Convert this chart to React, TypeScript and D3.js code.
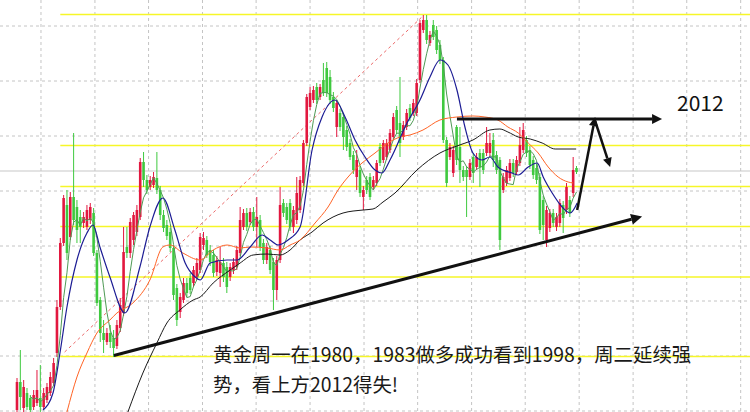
import React from 'react';
import * as d3 from 'd3';

const W = 750;
const H = 412;

// ---- candle data (price units) ----
const opens = [
  1954.0, 1959.6, 1954.4, 1957.4, 1956.4, 1954.6, 1955.4, 1956.4, 1954.6, 1956.0,
  1957.4, 1959.4, 1965.4, 1974.6, 1987.4, 1995.0, 1988.6, 1996.6, 1994.6, 1992.6,
  1991.4, 1990.6, 1992.0, 1993.4, 1985.4, 1976.0, 1969.4, 1967.6, 1969.4, 1968.4,
  1966.8, 1970.4, 1973.4, 1986.6, 1985.4, 1988.0, 1989.6, 1992.6, 2003.6, 2000.0,
  1998.6, 1999.0, 2000.4, 1998.0, 1993.0, 1991.0, 1989.6, 1986.4, 1978.4, 1973.6,
  1976.0, 1979.4, 1980.4, 1979.4, 1980.6, 1982.0, 1987.0, 1988.0, 1986.0, 1985.0,
  1981.6, 1981.4, 1983.4, 1982.6, 1980.6, 1982.0, 1982.6, 1985.4, 1990.6, 1993.4,
  1991.6, 1993.6, 1990.6, 1992.0, 1987.4, 1984.0, 1986.0, 1983.6, 1978.0, 1984.0,
  1995.4, 1994.6, 1995.4, 1990.6, 1992.0, 1994.0, 1999.4, 2007.4, 2014.6, 2016.0,
  2018.6, 2016.6, 2020.0, 2022.4, 2020.6, 2016.6, 2010.6, 2013.4, 2012.6, 2010.0,
  2007.4, 2005.0, 2000.6, 2002.0, 1996.6, 2000.0, 2000.6, 1998.6, 1999.4, 2006.6,
  2004.0, 2004.6, 2006.0, 2008.6, 2014.0, 2011.4, 2008.6, 2010.6, 2014.4, 2013.4,
  2013.4, 2020.0, 2030.0, 2032.0, 2027.4, 2031.0, 2030.0, 2027.0, 2024.0, 2008.0,
  2004.6, 2001.4, 2010.6, 2006.6, 2002.0, 2002.0, 2000.6, 2004.6, 2002.6, 2005.4,
  2005.4, 2005.4, 2005.4, 2008.0, 2005.0, 2004.0, 1998.0, 1999.4, 2000.4, 2003.4,
  2001.6, 2003.4, 2006.0, 2008.0, 2006.0, 2004.0, 2002.4, 2000.6, 1996.0, 1988.0,
  1990.4, 1993.4, 1990.6, 1991.4, 1995.0, 1994.0, 1996.0, 1997.4, 2002.4,
];
const highs = [
  1960.4, 1966.0, 1960.0, 1958.4, 1957.0, 1958.0, 1962.0, 1963.0, 1958.4, 1959.4,
  1961.6, 1964.4, 1976.0, 1988.4, 1997.0, 1998.0, 1997.6, 2009.4, 1996.0, 1994.0,
  1993.6, 1995.0, 1995.4, 1994.4, 1986.0, 1976.6, 1972.0, 1970.4, 1971.0, 1970.0,
  1972.0, 1976.4, 1990.6, 1990.6, 1992.4, 1993.6, 1995.0, 2004.4, 2005.6, 2001.0,
  2000.8, 2001.6, 2005.6, 1998.8, 1994.0, 1992.0, 1990.4, 1987.0, 1979.2, 1977.4,
  1980.4, 1980.4, 1981.4, 1982.8, 1984.4, 1989.4, 1989.6, 1988.8, 1987.0, 1986.0,
  1984.8, 1986.6, 1984.4, 1983.6, 1983.4, 1984.4, 1986.8, 1994.6, 1994.2, 1994.4,
  1994.4, 1994.6, 1996.6, 1993.0, 1988.2, 1987.4, 1986.8, 1984.4, 1984.8, 1998.6,
  1996.2, 1995.4, 1996.2, 1994.8, 2000.6, 2000.8, 2008.0, 2017.2, 2018.6, 2018.8,
  2019.4, 2019.2, 2023.4, 2023.6, 2022.0, 2017.6, 2016.0, 2014.2, 2013.4, 2010.8,
  2008.2, 2005.8, 2006.0, 2002.8, 1998.8, 2000.8, 2001.4, 2000.8, 2004.0, 2007.4,
  2008.0, 2008.2, 2010.2, 2013.4, 2014.8, 2020.6, 2011.8, 2014.2, 2015.2, 2016.2,
  2020.2, 2032.0, 2033.0, 2033.0, 2029.8, 2032.0, 2030.8, 2028.0, 2024.6, 2008.6,
  2007.4, 2006.8, 2011.0, 2010.6, 2002.8, 2002.8, 2004.2, 2005.4, 2005.4, 2006.2,
  2006.2, 2010.6, 2009.4, 2009.4, 2005.8, 2004.6, 2001.4, 2002.8, 2004.2, 2004.2,
  2004.8, 2010.6, 2011.4, 2008.8, 2006.8, 2004.8, 2003.2, 2001.4, 1996.8, 1994.8,
  1994.2, 1994.2, 1993.4, 1996.2, 1995.8, 1999.4, 1996.8, 2004.6, 2002.8,
];
const lows = [
  1953.6, 1954.0, 1953.6, 1954.0, 1953.2, 1954.0, 1954.8, 1953.6, 1954.0, 1955.4,
  1956.8, 1958.8, 1964.6, 1974.0, 1986.8, 1984.0, 1988.0, 1991.0, 1987.4, 1987.4,
  1990.4, 1990.0, 1991.2, 1984.8, 1974.8, 1967.6, 1965.4, 1967.0, 1966.4, 1964.6,
  1966.2, 1969.6, 1972.8, 1984.4, 1984.4, 1987.0, 1988.8, 1992.0, 1998.6, 1997.2,
  1998.0, 1998.4, 1997.2, 1992.0, 1989.6, 1988.0, 1985.6, 1976.0, 1970.8, 1972.4,
  1975.4, 1976.6, 1977.2, 1978.6, 1980.0, 1981.4, 1986.0, 1984.4, 1982.8, 1980.6,
  1980.8, 1978.6, 1979.6, 1977.4, 1979.8, 1981.2, 1982.0, 1984.8, 1990.0, 1989.8,
  1991.0, 1989.8, 1986.6, 1985.8, 1983.2, 1983.2, 1981.2, 1974.0, 1976.0, 1983.4,
  1992.6, 1991.2, 1989.8, 1989.4, 1991.2, 1993.4, 1998.8, 2006.8, 2014.0, 2015.4,
  2015.2, 2016.0, 2016.8, 2016.6, 2015.2, 2013.6, 2008.6, 2009.8, 2006.0, 2005.8,
  2004.0, 2001.2, 1998.0, 1996.6, 1994.0, 1997.2, 1996.0, 1998.0, 1998.8, 2002.8,
  2003.4, 2004.0, 2005.4, 2008.0, 2009.2, 2004.6, 2008.0, 2010.0, 2011.8, 2012.8,
  2012.8, 2019.4, 2029.4, 2027.2, 2026.8, 2028.0, 2025.2, 2023.2, 2007.4, 1998.6,
  2004.0, 2000.6, 2003.0, 1999.4, 1999.8, 1992.6, 2000.0, 1999.4, 2002.0, 1998.6,
  2001.2, 2004.8, 2004.8, 2002.6, 2001.2, 1986.0, 1997.4, 1998.8, 1999.8, 2000.6,
  2001.0, 2002.8, 2005.4, 2004.6, 2002.2, 2000.2, 1999.2, 1989.2, 1988.0, 1986.6,
  1989.6, 1990.6, 1989.8, 1990.6, 1989.4, 1993.2, 1992.6, 1996.6, 2001.2,
];
const closes = [
  1959.6, 1956.6, 1958.6, 1954.6, 1954.0, 1957.0, 1958.0, 1954.6, 1957.4, 1958.6,
  1960.6, 1963.4, 1974.6, 1987.4, 1996.4, 1985.4, 1996.6, 1992.0, 1990.0, 1990.6,
  1992.6, 1994.0, 1994.6, 1985.4, 1975.4, 1969.4, 1968.0, 1969.4, 1967.6, 1966.4,
  1971.0, 1975.0, 1985.6, 1985.4, 1991.6, 1993.0, 1994.0, 2003.6, 2000.0, 1998.0,
  2000.0, 2000.6, 1998.0, 1993.0, 1990.4, 1988.8, 1986.4, 1977.0, 1972.0, 1976.6,
  1979.4, 1977.4, 1978.0, 1982.0, 1983.4, 1988.6, 1988.4, 1985.0, 1983.6, 1981.4,
  1984.0, 1983.6, 1980.6, 1978.6, 1982.6, 1983.6, 1986.0, 1992.0, 1993.4, 1990.6,
  1993.6, 1990.6, 1992.6, 1986.6, 1984.0, 1986.6, 1982.0, 1978.0, 1984.0, 1995.0,
  1993.4, 1992.0, 1990.6, 1994.0, 1997.4, 2000.0, 2007.4, 2016.6, 2017.4, 2018.0,
  2016.0, 2018.6, 2017.4, 2017.4, 2016.0, 2014.4, 2015.4, 2010.6, 2008.6, 2006.6,
  2004.6, 2002.0, 2004.0, 1997.4, 1998.0, 1998.0, 1996.6, 2000.0, 2003.4, 2003.4,
  2007.4, 2007.4, 2009.4, 2012.6, 2010.0, 2007.4, 2011.0, 2013.4, 2012.4, 2015.4,
  2019.4, 2031.4, 2032.0, 2028.0, 2029.0, 2028.6, 2026.0, 2024.0, 2008.0, 1999.4,
  2006.6, 2006.0, 2004.0, 2002.0, 2000.6, 2000.6, 2003.4, 2001.4, 2004.6, 2002.6,
  2002.0, 2007.4, 2007.4, 2004.0, 2002.0, 1988.0, 2000.6, 2002.0, 2003.4, 2001.4,
  2004.0, 2007.0, 2010.0, 2005.4, 2003.0, 2001.0, 2000.0, 1990.0, 1991.0, 1994.0,
  1993.4, 1991.4, 1992.6, 1995.4, 1992.4, 1998.6, 1993.4, 2002.0, 2001.6,
];

// ---- moving-average curves: [candle index, price] ----
const blueMA: [number, number][] = [
  [7.8, 1954.0], [10.8, 1957.4], [12.9, 1965.4], [15.0, 1974.6], [18.0, 1984.0],
  [21.0, 1989.4], [22.8, 1991.0], [24.9, 1986.6], [27.9, 1980.6], [32.4, 1973.4],
  [36.9, 1982.6], [39.9, 1990.6], [43.8, 1996.4], [47.4, 1990.0], [50.5, 1983.4],
  [53.5, 1980.6], [55.0, 1980.0], [58.0, 1983.4], [63.1, 1984.0], [66.1, 1984.0],
  [70.0, 1986.6], [73.6, 1989.0], [76.0, 1988.0], [78.4, 1987.0], [81.4, 1988.0],
  [85.0, 1990.6], [88.6, 2006.0], [91.6, 2012.6], [95.5, 2016.0], [98.5, 2012.6],
  [101.5, 2008.0], [104.5, 2004.6], [107.5, 2002.0], [109.6, 2001.4], [112.0, 2004.0],
  [117.1, 2011.4], [121.0, 2016.0], [124.0, 2020.6], [127.0, 2024.0], [129.4, 2023.0],
  [132.1, 2018.0], [134.5, 2010.6], [136.9, 2005.4], [139.6, 2004.0], [142.0, 2004.6],
  [144.4, 2002.6], [148.6, 2001.4], [150.5, 2001.0], [153.5, 2002.6], [156.2, 2003.4],
  [158.0, 2000.6], [160.7, 1997.4], [163.7, 1994.6], [166.1, 1993.4], [168.2, 1995.4],
];
const orangeMA: [number, number][] = [
  [15.0, 1953.6], [18.0, 1960.6], [21.0, 1965.4], [24.0, 1969.4], [27.9, 1972.0],
  [30.0, 1973.4], [34.8, 1975.4], [39.9, 1980.0], [43.8, 1986.6], [45.9, 1987.0],
  [49.8, 1985.4], [55.0, 1984.0], [58.9, 1986.0], [63.1, 1987.0], [67.0, 1986.4],
  [70.0, 1986.6], [75.1, 1986.4], [79.0, 1986.0], [82.0, 1987.0], [85.0, 1988.0],
  [89.5, 1991.4], [93.4, 1994.6], [96.4, 1998.0], [99.4, 2000.6], [103.6, 2003.4],
  [107.5, 2005.4], [111.4, 2007.4], [115.0, 2008.6], [118.0, 2009.0], [121.9, 2010.0],
  [127.0, 2012.0], [132.1, 2012.6], [136.9, 2012.8], [140.5, 2012.6], [144.4, 2012.0],
  [147.4, 2010.6], [150.5, 2009.4], [153.5, 2007.4], [156.5, 2005.4], [159.5, 2002.6],
  [162.5, 2000.6], [165.5, 1999.6], [167.0, 1999.4],
];
const blackMA: [number, number][] = [
  [33.3, 1953.6], [37.8, 1961.4], [42.0, 1967.4], [45.0, 1971.4], [48.9, 1974.0],
  [52.9, 1976.0], [55.0, 1976.6], [58.9, 1979.4], [64.0, 1982.0], [67.0, 1983.4],
  [70.9, 1985.0], [75.1, 1985.2], [79.0, 1985.0], [82.0, 1986.0], [85.0, 1988.0],
  [88.6, 1989.6], [91.9, 1991.4], [97.9, 1993.4], [103.9, 1994.0], [106.9, 1994.2],
  [109.9, 1995.6], [113.5, 1997.4], [120.1, 2002.0], [127.0, 2005.4], [132.1, 2006.8],
  [136.9, 2008.0], [142.0, 2010.0], [145.0, 2010.2], [147.4, 2009.6], [150.5, 2008.6],
  [154.1, 2008.2], [157.7, 2007.4], [161.6, 2006.2], [167.9, 2006.2],
];

// ---- levels / annotations ----
const yellowLevels = [2033.1, 2006.9, 1998.7, 1990.7, 1980.6, 1964.7];
const yellowStartIndex = 13;
const lastPriceLevel = 2001.8;
const gridPrices = [2030.8, 2019.8, 2008.8, 1997.8, 1986.8, 1975.8, 1964.8, 1953.8];
const gridIndices = [7.2, 23.4, 39.5, 55.7, 71.8, 88.0, 104.2, 120.3, 136.5, 152.6, 168.8, 185.0, 201.1, 217.3];
const supportLine: [number, number][] = [[29.1, 1964.9], [187.7, 1992.7]];
const dashedLine: [number, number][] = [[14.3, 1965.6], [121.9, 2032.8]];
const targetArrow: [number, number][] = [[132.1, 2012.2], [193.7, 2012.2]];
const upArrow: [number, number][] = [[168.2, 1994.0], [173.6, 2012.6]];
const downArrow: [number, number][] = [[173.6, 2011.8], [178.1, 2002.6]];
const noteLines = ['黄金周一在1980，1983做多成功看到1998，周二延续强', '势，看上方2012得失!'];
const targetLabel = '2012';

const x = d3.scaleLinear().domain([0, 168]).range([17, 576.5]);
const y = d3.scaleLinear().domain([2036, 1953.6]).range([0, H]);

const RED = '#e2183f';
const GREEN = '#3fc93f';

function Arrow({ pts, width, head }: { pts: [number, number][]; width: number; head: number }) {
  const [x1, y1] = [x(pts[0][0]), y(pts[0][1])];
  const [x2, y2] = [x(pts[1][0]), y(pts[1][1])];
  const ang = Math.atan2(y2 - y1, x2 - x1);
  const bx = x2 - head * Math.cos(ang);
  const by = y2 - head * Math.sin(ang);
  const hw = head * 0.5;
  const p1 = [bx + hw * Math.sin(ang), by - hw * Math.cos(ang)];
  const p2 = [bx - hw * Math.sin(ang), by + hw * Math.cos(ang)];
  return (
    <g>
      <line x1={x1} y1={y1} x2={bx} y2={by} stroke="#111" strokeWidth={width} />
      <polygon points={`${x2},${y2} ${p1[0]},${p1[1]} ${p2[0]},${p2[1]}`} fill="#111" />
    </g>
  );
}

export default function App() {
  const ma5 = closes.map((_, i) => (i < 4 ? null : (d3.mean(closes.slice(i - 4, i + 1)) as number)));
  const ma5Line = d3
    .line<number | null>()
    .defined((d) => d !== null)
    .x((_, i) => x(i))
    .y((d) => y(d as number));
  const maLine = d3
    .line<[number, number]>()
    .x((d) => x(d[0]))
    .y((d) => y(d[1]))
    .curve(d3.curveMonotoneX);

  return (
    <svg
      width={W}
      height={H}
      style={{ position: 'absolute', left: 0, top: 0, background: '#fff' }}
      fontFamily="'Noto Sans CJK SC', 'Noto Sans', sans-serif"
    >
      <rect width={W} height={H} fill="#fff" />
      {/* grid */}
      {gridIndices.map((g) => (
        <line key={'gx' + g} x1={x(g)} x2={x(g)} y1={0} y2={H} stroke="#c4c4c4" strokeDasharray="3,3" strokeWidth={1} />
      ))}
      {gridPrices.map((g) => (
        <line key={'gy' + g} x1={0} x2={W} y1={y(g)} y2={y(g)} stroke="#c4c4c4" strokeDasharray="3,3" strokeWidth={1} />
      ))}
      <line x1={0} x2={W} y1={y(lastPriceLevel)} y2={y(lastPriceLevel)} stroke="#c8c8c8" strokeWidth={1.2} />
      {/* yellow levels */}
      {yellowLevels.map((lv) => (
        <line key={'yl' + lv} x1={x(yellowStartIndex)} x2={W} y1={y(lv)} y2={y(lv)} stroke="#f6f628" strokeWidth={1.6} />
      ))}
      {/* dashed red trend */}
      <line
        x1={x(dashedLine[0][0])}
        y1={y(dashedLine[0][1])}
        x2={x(dashedLine[1][0])}
        y2={y(dashedLine[1][1])}
        stroke="#ec6a6a"
        strokeWidth={1}
        strokeDasharray="3,3"
      />
      {/* candles */}
      {closes.map((c, i) => {
        const o = opens[i];
        const up = c >= o;
        const col = up ? RED : GREEN;
        const cx = x(i);
        const top = y(Math.max(o, c));
        const bot = y(Math.min(o, c));
        return (
          <g key={'c' + i}>
            <line x1={cx} x2={cx} y1={y(highs[i])} y2={y(lows[i])} stroke={col} strokeWidth={1} />
            <rect x={cx - 1.3} y={top} width={2.6} height={Math.max(1, bot - top)} fill={col} />
          </g>
        );
      })}
      {/* moving averages */}
      <path d={ma5Line(ma5) || ''} fill="none" stroke="#4f9a55" strokeWidth={1} />
      <path d={maLine(blackMA) || ''} fill="none" stroke="#1a1a1a" strokeWidth={1} />
      <path d={maLine(orangeMA) || ''} fill="none" stroke="#ff6426" strokeWidth={1} />
      <path d={maLine(blueMA) || ''} fill="none" stroke="#1c1c94" strokeWidth={1.2} />
      {/* annotations */}
      <Arrow pts={supportLine} width={3} head={11} />
      <Arrow pts={targetArrow} width={3} head={10} />
      <Arrow pts={upArrow} width={2.5} head={9} />
      <Arrow pts={downArrow} width={2.5} head={9} />
      <text x={677} y={111} fontSize={21} fill="#111">
        {targetLabel}
      </text>
      {noteLines.map((t, k) => (
        <text key={'n' + k} x={213} y={362 + k * 30} fontSize={19.4} fill="#1a1a1a">
          {t}
        </text>
      ))}
    </svg>
  );
}
